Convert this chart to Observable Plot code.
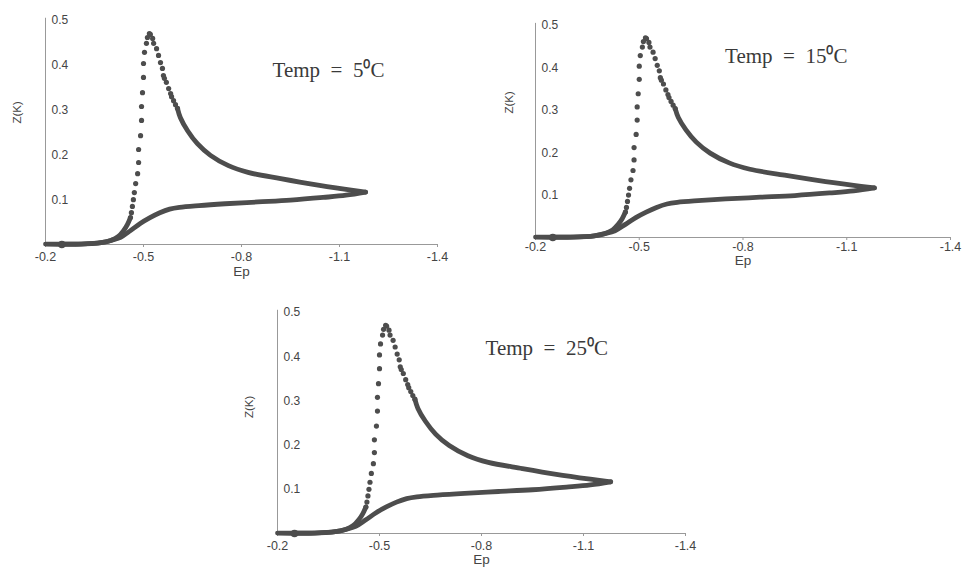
<!DOCTYPE html>
<html><head><meta charset="utf-8">
<script src="https://cdn.jsdelivr.net/npm/d3@7"></script>
<script src="https://cdn.jsdelivr.net/npm/@observablehq/plot@0.6"></script>
<style>
body{margin:0;background:#fff;}
#wrap{position:relative;width:964px;height:568px;overflow:hidden;background:#fff;}
#wrap svg{position:absolute;}
</style></head><body><div id="wrap"></div>
<script>
// Panel temperatures
const temps = ["5", "15", "25"];
// Axis ticks
const xTicks = [-0.2, -0.5, -0.8, -1.1, -1.4];
const yTicks = [0.1, 0.2, 0.3, 0.4, 0.5];
// Start point of the scan
const startE = [-0.25];
const startZ = [0];
// Forward scan (dense, drawn as a continuous trace)
const fwdE = [-0.25, -0.30, -0.34, -0.37, -0.40, -0.43, -0.46, -0.49, -0.52, -0.55, -0.58, -0.61, -0.67, -0.75, -0.85, -0.95, -1.05, -1.12, -1.18];
const fwdZ = [0.001, 0.001, 0.002, 0.004, 0.009, 0.016, 0.031, 0.047, 0.060, 0.071, 0.079, 0.083, 0.087, 0.091, 0.095, 0.099, 0.105, 0.110, 0.117];
// Reverse scan from the vertex (dense part)
const revE = [-1.18, -1.12, -1.02, -0.92, -0.82, -0.76, -0.705, -0.665, -0.635, -0.613, -0.604];
const revZ = [0.117, 0.123, 0.134, 0.147, 0.161, 0.176, 0.199, 0.225, 0.254, 0.283, 0.304];
// Reverse scan around the peak (separate points)
const dotE = [-0.604, -0.598, -0.592, -0.586, -0.583, -0.577, -0.570, -0.564, -0.561, -0.558, -0.552, -0.546, -0.540, -0.531, -0.528, -0.521, -0.518, -0.512, -0.509, -0.503, -0.500, -0.500, -0.497, -0.494, -0.494, -0.491, -0.485, -0.485, -0.482, -0.476, -0.472, -0.469, -0.466, -0.463, -0.460];
const dotZ = [0.304, 0.312, 0.321, 0.330, 0.337, 0.348, 0.362, 0.371, 0.377, 0.393, 0.406, 0.422, 0.437, 0.449, 0.460, 0.469, 0.471, 0.462, 0.449, 0.429, 0.404, 0.373, 0.339, 0.308, 0.277, 0.243, 0.212, 0.183, 0.158, 0.136, 0.116, 0.100, 0.085, 0.071, 0.060];
// Reverse scan tail back to the start potential (dense)
const tailE = [-0.460, -0.451, -0.439, -0.423, -0.40, -0.37, -0.31, -0.20];
const tailZ = [0.060, 0.045, 0.031, 0.018, 0.009, 0.004, 0.001, 0.001];

const toRows = (E, Z) => E.map((e, i) => ({E: e, Z: Z[i]}));
const fwd = toRows(fwdE, fwdZ);
const rev = toRows(revE, revZ);
const dots = toRows(dotE, dotZ);
const tail = toRows(tailE, tailZ);
const start = toRows(startE, startZ);

const ink = "#4d4d4d";
const panels = [
  {temp: temps[0], left: 0,   top: 0,   w: 470, h: 290, mL: 45, mT: 20, pw: 392, ph: 224, tE: -0.895, tZ: 0.388, zdx: -28, zdy: -9,  edy: 31, tp: 5},
  {temp: temps[1], left: 480, top: 0,   w: 484, h: 290, mL: 55, mT: 25, pw: 415, ph: 212, tE: -0.748, tZ: 0.428, zdx: -26, zdy: -18, edy: 27, tp: 2},
  {temp: temps[2], left: 230, top: 290, w: 500, h: 278, mL: 47, mT: 22, pw: 408, ph: 221, tE: -0.812, tZ: 0.419, zdx: -28, zdy: -5,  edy: 30, tp: 5}
];

const wrap = document.getElementById("wrap");
for (const p of panels) {
  const chart = Plot.plot({
    width: p.w, height: p.h,
    marginLeft: p.mL, marginTop: p.mT,
    marginRight: p.w - p.mL - p.pw, marginBottom: p.h - p.mT - p.ph,
    style: {fontFamily: "'Liberation Sans', Arial, sans-serif", fontSize: "12px", color: "#444", background: "transparent"},
    x: {domain: [-0.2, -1.4], axis: null},
    y: {domain: [0, 0.5], axis: null},
    marks: [
      Plot.ruleX([-0.2], {y1: 0, y2: 0.505, stroke: "#999", strokeWidth: 1}),
      Plot.ruleY([0], {x1: -0.2, x2: -1.4, stroke: "#999", strokeWidth: 1}),
      Plot.axisX({ticks: xTicks, tickFormat: d => d.toFixed(1), tickSize: 3, tickPadding: p.tp, stroke: "#999", fill: "#444", label: null, fontSize: 12.5}),
      Plot.text(yTicks, {x: () => -0.2, y: d => d, text: d => d.toFixed(1), textAnchor: "start", dx: 6, fill: "#444", fontSize: 12}),
      Plot.text(["Z(K)"], {frameAnchor: "left", rotate: -90, dx: p.zdx, dy: p.zdy, fill: "#444", fontSize: 11.5}),
      Plot.text(["Ep"], {frameAnchor: "bottom", dy: p.edy, fill: "#444", fontSize: 13.5}),
      Plot.text([p.temp], {x: () => p.tE, y: () => p.tZ, text: d => `Temp\u2002=\u2002${d}\u2070C`, textAnchor: "start",
        fontFamily: "'Liberation Serif', 'Times New Roman', serif", fontSize: 21, fill: "#3a3a3a"}),
      Plot.line(fwd, {x: "E", y: "Z", curve: "catmull-rom", stroke: ink, strokeWidth: 4.8, strokeLinecap: "round"}),
      Plot.line(rev, {x: "E", y: "Z", curve: "catmull-rom", stroke: ink, strokeWidth: 4.8, strokeLinecap: "round"}),
      Plot.line(tail, {x: "E", y: "Z", curve: "catmull-rom", stroke: ink, strokeWidth: 4.8, strokeLinecap: "round"}),
      Plot.dot(dots, {x: "E", y: "Z", r: 2.6, fill: ink, stroke: "none"}),
      Plot.dot(start, {x: "E", y: "Z", r: 3.8, fill: ink, stroke: "none"})
    ]
  });
  chart.style.left = p.left + "px";
  chart.style.top = p.top + "px";
  wrap.appendChild(chart);
}
</script></body></html>
